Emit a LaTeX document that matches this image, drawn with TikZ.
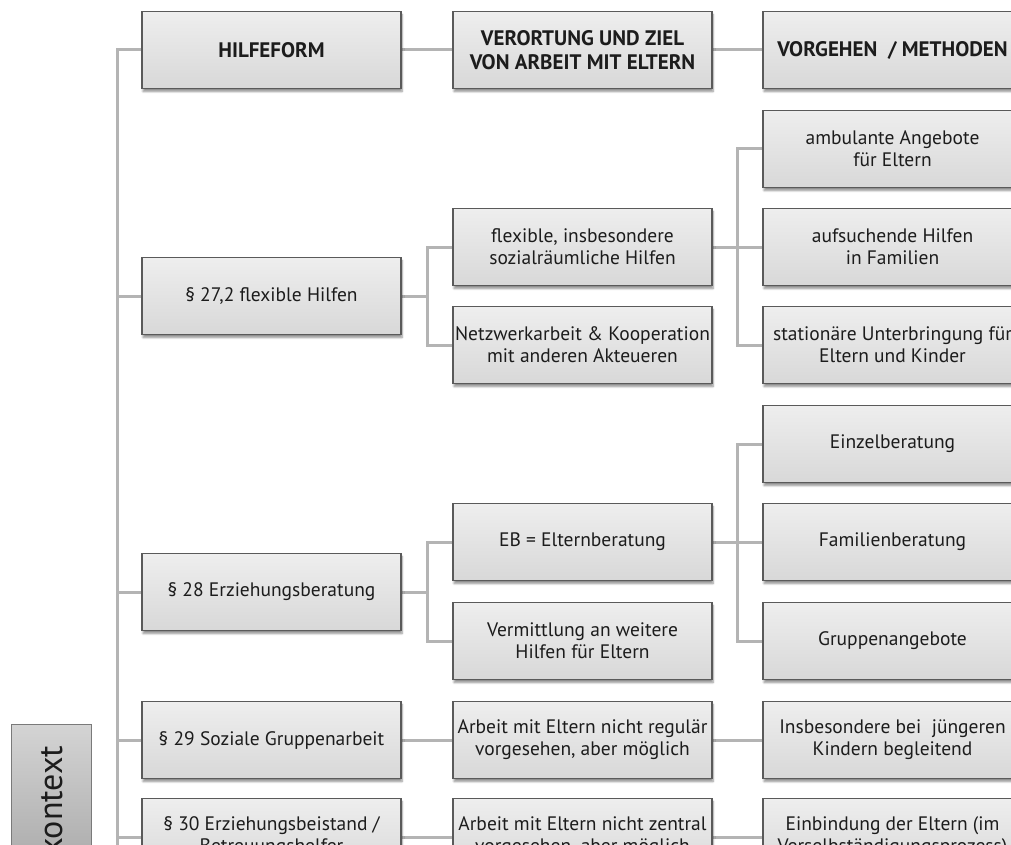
\documentclass[tikz,border=0pt]{standalone}
\usepackage{fontspec}
\setmainfont{PT Sans}
\usetikzlibrary{shadows.blur,backgrounds}
\definecolor{bordc}{HTML}{5A5A5A}
\definecolor{linec}{HTML}{B4B4B4}
\definecolor{topc}{HTML}{EEEEEE}
\definecolor{botc}{HTML}{D8D8D8}
\definecolor{txtc}{HTML}{1C1C1C}
\definecolor{kleft}{HTML}{D4D4D4}
\definecolor{kright}{HTML}{8E8E8E}
\definecolor{kbord}{HTML}{7A7A7A}
\tikzset{
 hbox/.style={rectangle, draw=bordc, line width=1.3pt, top color=topc, bottom color=botc,
   minimum width=259pt, minimum height=77pt, align=center, inner sep=2pt, text=txtc,
   font=\fontsize{19.5}{22}\selectfont,
   blur shadow={shadow xshift=1pt, shadow yshift=-3pt, shadow blur steps=6, shadow opacity=45}},
 headbox/.style={hbox, font=\fontsize{21}{24}\selectfont\bfseries},
 kbox/.style={rectangle, draw=kbord, line width=1pt, top color=kleft, bottom color=kright,
   text=txtc, font=\fontsize{34}{38}\selectfont},
 conn/.style={draw=linec, line width=3pt},
}
\begin{document}
\begin{tikzpicture}[x=1pt,y=-1pt]
\useasboundingbox (0,0) rectangle (1011,845);
\clip (0,0) rectangle (1011,845);
% header
\node[headbox] (hf) at (271.5,50) {HILFEFORM};
\node[headbox] (vz) at (582.5,50) {VERORTUNG UND ZIEL\\VON ARBEIT MIT ELTERN};
\node[headbox] (vg) at (892.5,50) {VORGEHEN~ / METHODEN};
% row 1
\node[hbox] (r1) at (271.5,296) {§ 27,2 flexible Hilfen};
\node[hbox] (flex) at (582.5,247) {flexible, insbesondere\\sozialräumliche Hilfen};
\node[hbox] (netz) at (582.5,345) {Netzwerkarbeit \& Kooperation\\mit anderen Akteueren};
\node[hbox] (amb) at (892.5,149) {ambulante Angebote\\für Eltern};
\node[hbox] (auf) at (892.5,247) {aufsuchende Hilfen\\in Familien};
\node[hbox] (stat) at (892.5,345) {stationäre Unterbringung für\\Eltern und Kinder};
% row 2
\node[hbox] (r2) at (271.5,592) {§ 28 Erziehungsberatung};
\node[hbox] (eb) at (582.5,542) {EB = Elternberatung};
\node[hbox] (verm) at (582.5,641) {Vermittlung an weitere\\Hilfen für Eltern};
\node[hbox] (einz) at (892.5,444) {Einzelberatung};
\node[hbox] (fam) at (892.5,542) {Familienberatung};
\node[hbox] (grp) at (892.5,641) {Gruppenangebote};
% row 3
\node[hbox] (r3) at (271.5,740) {§ 29 Soziale Gruppenarbeit};
\node[hbox] (r3b) at (582.5,740) {Arbeit mit Eltern nicht regulär\\vorgesehen, aber möglich};
\node[hbox] (r3c) at (892.5,740) {Insbesondere bei~ jüngeren\\Kindern begleitend};
% row 4
\node[hbox] (r4) at (271.5,837) {§ 30 Erziehungsbeistand /\\Betreuungshelfer};
\node[hbox] (r4b) at (582.5,837) {Arbeit mit Eltern nicht zentral\\vorgesehen, aber möglich};
\node[hbox] (r4c) at (892.5,837) {Einbindung der Eltern (im\\Verselbständigungsprozess)};
% context box
\node[kbox, rotate=90, anchor=east, minimum width=240pt, minimum height=80pt,
      inner xsep=21pt, text width=198pt, align=right] (ctx) at (51,724) {kontext};
% connectors
\coordinate (sp) at (117,50);
\coordinate (spb) at (117,900);
\coordinate (b1) at (427,296);
\coordinate (c1) at (737,247);
\coordinate (b2) at (427,592);
\coordinate (c2) at (737,542);
\begin{scope}[on background layer]
\draw[conn] (hf.west) -| (spb);
\foreach \n in {r1,r2,r3,r4} \draw[conn] (\n.west) -- (\n.west -| sp);
\draw[conn] (hf) -- (vz);
\draw[conn] (vz) -- (vg);
\draw[conn] (r1.east) -- (b1);
\draw[conn] (flex.west) -| (b1);
\draw[conn] (netz.west) -| (b1);
\draw[conn] (flex) -- (auf);
\draw[conn] (amb.west) -| (c1);
\draw[conn] (stat.west) -| (c1);
\draw[conn] (r2.east) -- (b2);
\draw[conn] (eb.west) -| (b2);
\draw[conn] (verm.west) -| (b2);
\draw[conn] (eb) -- (fam);
\draw[conn] (einz.west) -| (c2);
\draw[conn] (grp.west) -| (c2);
\draw[conn] (r3) -- (r3b);
\draw[conn] (r3b) -- (r3c);
\draw[conn] (r4) -- (r4b);
\draw[conn] (r4b) -- (r4c);
\end{scope}
\end{tikzpicture}
\end{document}
